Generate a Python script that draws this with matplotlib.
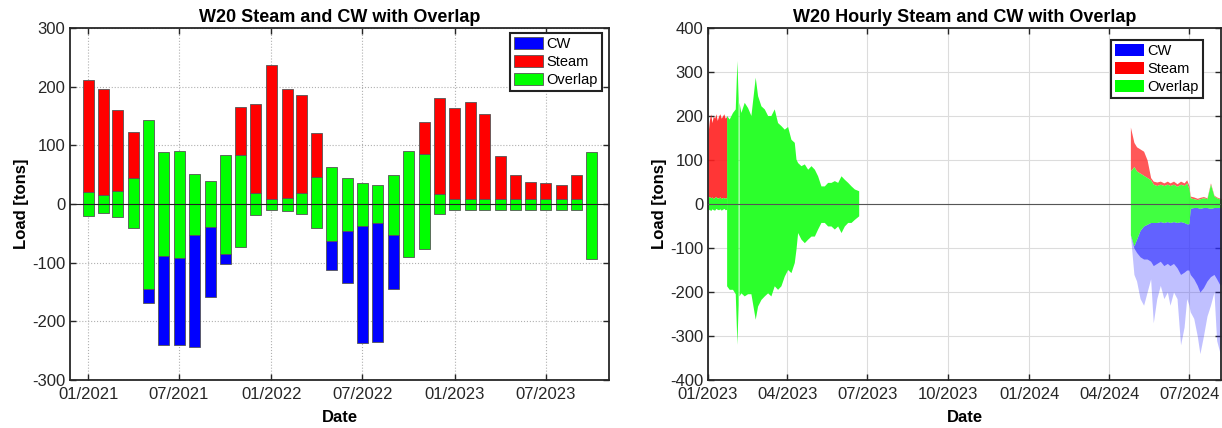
import numpy as np
import pandas as pd
import matplotlib
matplotlib.use("Agg")
import matplotlib.pyplot as plt
import matplotlib.dates as mdates
from matplotlib.patches import Patch

plt.rcParams["font.family"] = ["Liberation Sans", "DejaVu Sans"]
plt.rcParams["axes.unicode_minus"] = False

# ---- monthly data (left panel), Jan 2021 .. Oct 2023
months = pd.date_range("2021-01-01", "2023-10-01", freq="MS")
steam_month = [211, 196, 160, 122, 144, 88, 90, 51, 39, 84, 165, 171,
               237, 196, 185, 121, 63, 44, 36, 32, 50, 91, 140, 181,
               164, 174, 154, 82, 49, 37, 36, 32, 49, 89]
cw_month = [21, 16, 22, 41, 169, 240, 240, 244, 158, 103, 74, 19,
            11, 12, 17, 41, 113, 135, 237, 235, 145, 91, 76, 17,
            10, 10, 10, 10, 10, 10, 10, 10, 10, 93]
overlap_up = [21, 16, 23, 45, 144, 88, 90, 51, 39, 84, 84, 19,
              9, 11, 18, 46, 63, 44, 36, 32, 50, 91, 86, 17,
              9, 9, 9, 9, 9, 9, 9, 9, 9, 89]
overlap_dn = [21, 16, 22, 41, 145, 89, 92, 53, 40, 85, 74, 19,
              11, 12, 17, 41, 63, 46, 37, 33, 52, 91, 76, 17,
              10, 10, 10, 10, 10, 10, 10, 10, 10, 93]

# ---- hourly data envelopes (right panel), x = days after 2023-01-01
t0 = pd.Timestamp("2023-01-01")

jan23_days = [0, 1.5, 3, 4.5, 6, 7.5, 9, 10.5, 12, 13.5, 15, 16.5, 18, 19.5, 21.5]
jan23_steam = [160, 190, 205, 185, 200, 195, 205, 190, 200, 205, 195, 200, 205, 195, 200]
jan23_ov_hi = [15, 17, 14, 16, 12, 15, 17, 13, 14, 16, 12, 15, 14, 13, 15]
jan23_ov_lo = [-14, -12, -15, -11, -13, -14, -10, -12, -13, -11, -14, -12, -10, -13, -12]

spr23_days = [21.7, 24.6, 28.4, 31.5, 33.4, 34.8, 35.3, 35.8, 37.9, 41.7, 45.5, 49.3,
              54.2, 56.9, 60.7, 64.5, 68.3, 72.0, 75.8, 79.6, 83.4, 87.2, 91.0,
              94.8, 98.6, 100.5, 102.4, 106.2, 110.0, 113.8, 117.6, 121.4, 125.1,
              128.9, 132.7, 136.5, 140.3, 144.1, 147.9, 151.7, 155.5, 159.3,
              163.1, 166.9, 171.8]
spr23_ov_hi = [200, 192, 207, 215, 325, 240, np.nan, 230, 207, 230, 218, 200,
               287, 245, 222, 215, 200, 200, 215, 184, 177, 169, 175,
               146, 139, 101, 93, 86, 90, 78, 86, 78, 63,
               40, 40, 48, 48, 52, 48, 63, 55, 48,
               40, 33, 29]
spr23_ov_lo = [-187, -195, -195, -205, -320, -230, np.nan, -210, -203, -210, -205, -205,
               -263, -233, -218, -210, -203, -210, -187, -195, -187, -165, -150,
               -157, -134, -104, -66, -81, -89, -81, -74, -74, -58,
               -43, -43, -51, -51, -58, -51, -66, -51, -43,
               -43, -36, -28]

sum24_days = [480, 484, 487, 491, 495, 499, 503, 506, 510, 514, 518, 522, 525, 529, 533,
              537, 541, 544, 546.5, 548, 552, 556, 559, 563, 567, 571, 575, 578, 582, 584]
sum24_steam = [175, 140, 130, 125, 120, 100, 60, 52, 50, 52, 48, 52, 48, 52, 46,
               52, 48, 55, 42, 18, 16, 13, 15, 17, 14, 48, 20, 16, 13, 12]
sum24_ov_hi = [75, 85, 75, 70, 65, 60, 55, 45, 42, 45, 42, 45, 42, 45, 40,
               45, 42, 48, 35, 14, 12, 10, 12, 14, 12, 45, 18, 14, 11, 10]
sum24_ov_lo = [-70, -95, -80, -60, -50, -46, -42, -42, -42, -40, -42, -40, -42, -40, -42,
               -40, -42, -45, -45, -10, -8, -8, -10, -8, -8, -10, -8, -8, -8, -8]
sum24_cw_body = [-70, -100, -110, -120, -125, -125, -130, -140, -135, -130, -140, -135, -140,
                 -135, -145, -160, -155, -150, -150, -160, -170, -185, -200, -190, -175,
                 -165, -160, -170, -185, -180]
sum24_cw_peak = [-70, -160, -175, -215, -230, -200, -170, -270, -215, -185, -215, -200, -230,
                 -200, -215, -320, -280, -215, -230, -245, -260, -300, -340, -300, -255,
                 -230, -200, -310, -340, -300]

BLUE = "#0000ff"
RED = "#ff0000"
GREEN = "#00ff00"


def dates(days):
    return t0 + pd.to_timedelta(np.asarray(days, dtype=float), unit="D")


def style_axes(ax):
    ax.tick_params(direction="in", top=True, right=True, length=4, labelsize=12,
                   colors="#262626", width=1)
    ax.tick_params(axis="x", pad=5)
    for s in ax.spines.values():
        s.set_linewidth(1.3)
        s.set_color("#262626")
    ax.set_xlabel("Date", fontsize=12, fontweight="bold", labelpad=6)
    ax.set_ylabel("Load [tons]", fontsize=12, fontweight="bold", labelpad=2)


fig = plt.figure(figsize=(12.22, 4.28), dpi=100)
ax1 = fig.add_axes([0.0573, 0.1121, 0.4411, 0.8225])
ax2 = fig.add_axes([0.5794, 0.1121, 0.4198, 0.8225])

# ---------------- left panel
steam = np.array(steam_month, float)
cw = np.array(cw_month, float)
up = np.array(overlap_up, float)
dn = np.array(overlap_dn, float)
w = 22
ec = "#555555"

ax1.bar(months, up + dn, bottom=-dn, width=w, color=GREEN, edgecolor=ec, linewidth=0.6, zorder=2)
m = steam > up
ax1.bar(months[m], (steam - up)[m], bottom=up[m], width=w, color=RED, edgecolor=ec,
        linewidth=0.6, zorder=2)
m = cw > dn
ax1.bar(months[m], -(cw - dn)[m], bottom=-dn[m], width=w, color=BLUE, edgecolor=ec,
        linewidth=0.6, zorder=2)
ax1.axhline(0, color="#222222", lw=0.8, zorder=3)

ax1.set_ylim(-300, 300)
ax1.set_yticks(np.arange(-300, 301, 100))
ax1.set_xlim(pd.Timestamp("2020-11-26"), pd.Timestamp("2023-11-04"))
ax1.xaxis.set_major_locator(mdates.MonthLocator(bymonth=[1, 7]))
ax1.xaxis.set_major_formatter(mdates.DateFormatter("%m/%Y"))
ax1.grid(True, linestyle=":", color="#b0b0b0", lw=0.8)
ax1.set_axisbelow(True)
style_axes(ax1)
ax1.set_title("W20 Steam and CW with Overlap", fontsize=13, fontweight="bold", pad=4)

handles = [Patch(facecolor=BLUE, edgecolor=ec, lw=0.6, label="CW"),
           Patch(facecolor=RED, edgecolor=ec, lw=0.6, label="Steam"),
           Patch(facecolor=GREEN, edgecolor=ec, lw=0.6, label="Overlap")]
leg = ax1.legend(handles=handles, loc="upper right", bbox_to_anchor=(0.987, 0.986),
                 fontsize=10.5, handlelength=2.0, handleheight=0.9, labelspacing=0.25,
                 handletextpad=0.2, borderpad=0.3, borderaxespad=0, fancybox=False,
                 framealpha=1)
leg.get_frame().set_edgecolor("#222222")
leg.get_frame().set_linewidth(1.5)

# ---------------- right panel
GREEN_H = "#2cff2c"
d = dates(jan23_days)
ax2.fill_between(d, jan23_ov_hi, jan23_steam, color="#ff2020", lw=0, alpha=0.9, zorder=2)
ax2.fill_between(d, jan23_ov_lo, jan23_ov_hi, color=GREEN_H, lw=0, zorder=2)
d = dates(spr23_days)
ax2.fill_between(d, spr23_ov_lo, spr23_ov_hi, color=GREEN_H, lw=0, zorder=2)
d = dates(sum24_days)
ax2.fill_between(d, sum24_cw_peak, sum24_ov_lo, color="#3030ff", lw=0, alpha=0.3, zorder=2)
ax2.fill_between(d, sum24_cw_body, sum24_ov_lo, color="#3030ff", lw=0, alpha=0.65, zorder=2)
ax2.fill_between(d, sum24_ov_hi, sum24_steam, color="#ff2020", lw=0, alpha=0.75, zorder=2)
ax2.fill_between(d, sum24_ov_lo, sum24_ov_hi, color=GREEN_H, lw=0, alpha=0.9, zorder=2)
ax2.axhline(0, color="#555555", lw=0.8, zorder=3)

ax2.set_ylim(-400, 400)
ax2.set_yticks(np.arange(-400, 401, 100))
ax2.set_xlim(pd.Timestamp("2023-01-01"), pd.Timestamp("2024-08-06"))
ax2.xaxis.set_major_locator(mdates.MonthLocator(bymonth=[1, 4, 7, 10]))
ax2.xaxis.set_major_formatter(mdates.DateFormatter("%m/%Y"))
ax2.grid(True, linestyle="-", color="#dcdcdc", lw=0.8)
ax2.set_axisbelow(True)
style_axes(ax2)
ax2.set_title("W20 Hourly Steam and CW with Overlap", fontsize=13, fontweight="bold", pad=4)

handles = [Patch(facecolor=BLUE, label="CW"),
           Patch(facecolor=RED, label="Steam"),
           Patch(facecolor=GREEN, label="Overlap")]
leg = ax2.legend(handles=handles, loc="upper right", bbox_to_anchor=(0.965, 0.966),
                 fontsize=10.5, handlelength=2.0, handleheight=0.9, labelspacing=0.25,
                 handletextpad=0.2, borderpad=0.3, borderaxespad=0, fancybox=False,
                 framealpha=1)
leg.get_frame().set_edgecolor("#222222")
leg.get_frame().set_linewidth(1.5)

fig.savefig("out.png", dpi=100)
